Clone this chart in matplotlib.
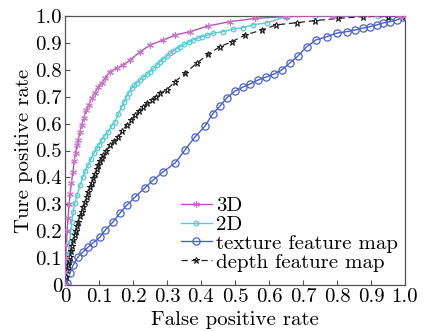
import matplotlib
matplotlib.use("Agg")
import matplotlib.pyplot as plt

plt.rcParams['font.family'] = ['cmr10', 'DejaVu Serif']
plt.rcParams['axes.formatter.use_mathtext'] = True
plt.rcParams['mathtext.fontset'] = 'cm'

# ---- data ----
x_3d = [0, 0.001, 0.002, 0.004, 0.006, 0.009, 0.012, 0.015, 0.019, 0.023, 0.027, 0.031,
        0.035, 0.039, 0.044, 0.049, 0.055, 0.062, 0.07, 0.078, 0.088, 0.098, 0.108, 0.118,
        0.132, 0.152, 0.171, 0.191, 0.221, 0.25, 0.289, 0.324, 0.368, 0.421, 0.485, 0.559,
        0.65, 0.789, 0.985, 1.0]
y_3d = [0, 0.05, 0.1, 0.15, 0.2, 0.25, 0.3, 0.34, 0.38, 0.42, 0.46, 0.49,
        0.52, 0.54, 0.57, 0.595, 0.62, 0.65, 0.67, 0.694, 0.715, 0.737, 0.752, 0.768,
        0.793, 0.806, 0.818, 0.836, 0.867, 0.892, 0.911, 0.929, 0.942, 0.963, 0.979, 0.991,
        0.998, 1.0, 1.0, 1.0]

x_2d = [0, 0.005, 0.008, 0.011, 0.014, 0.017, 0.02, 0.024, 0.029, 0.036, 0.044, 0.052,
        0.06, 0.068, 0.077, 0.085, 0.093, 0.1, 0.108, 0.117, 0.127, 0.137, 0.147, 0.157,
        0.167, 0.174, 0.181, 0.188, 0.196, 0.204, 0.212, 0.221, 0.23, 0.24, 0.25, 0.26,
        0.27, 0.279, 0.289, 0.299, 0.309, 0.319, 0.328, 0.338, 0.351, 0.364, 0.377, 0.39,
        0.403, 0.417, 0.436, 0.465, 0.494, 0.524, 0.553, 0.593, 0.652, 0.735, 0.92, 1.0]
y_2d = [0, 0.04, 0.08, 0.12, 0.16, 0.2, 0.235, 0.272, 0.305, 0.335, 0.37, 0.4,
        0.425, 0.445, 0.47, 0.49, 0.508, 0.522, 0.539, 0.555, 0.57, 0.59, 0.607, 0.635,
        0.663, 0.68, 0.7, 0.715, 0.731, 0.742, 0.752, 0.762, 0.772, 0.783, 0.793, 0.805,
        0.818, 0.83, 0.84, 0.85, 0.861, 0.87, 0.878, 0.886, 0.895, 0.903, 0.911, 0.917,
        0.923, 0.929, 0.936, 0.942, 0.951, 0.957, 0.967, 0.975, 0.998, 1.0, 1.0, 1.0]

x_tex = [0, 0.005, 0.015, 0.024, 0.038, 0.053, 0.068, 0.082, 0.103, 0.118, 0.141, 0.162,
         0.182, 0.206, 0.235, 0.259, 0.288, 0.324, 0.353, 0.382, 0.412, 0.434, 0.456,
         0.476, 0.5, 0.524, 0.544, 0.568, 0.591, 0.615, 0.637, 0.662, 0.685, 0.711, 0.738,
         0.77, 0.799, 0.829, 0.853, 0.876, 0.897, 0.917, 0.935, 0.956, 0.976, 0.994, 1.0]
y_tex = [0, 0.006, 0.045, 0.074, 0.104, 0.123, 0.141, 0.156, 0.178, 0.204, 0.234, 0.268,
         0.297, 0.327, 0.361, 0.39, 0.42, 0.454, 0.502, 0.55, 0.591, 0.636, 0.665,
         0.696, 0.721, 0.736, 0.747, 0.762, 0.773, 0.784, 0.799, 0.826, 0.851, 0.886, 0.911,
         0.923, 0.936, 0.942, 0.948, 0.955, 0.96, 0.967, 0.974, 0.979, 0.985, 0.996, 1.0]

x_dep = [0, 0.003, 0.005, 0.008, 0.011, 0.015, 0.018, 0.021, 0.024, 0.028, 0.032, 0.036,
         0.039, 0.044, 0.049, 0.054, 0.059, 0.064, 0.069, 0.074, 0.078, 0.083, 0.088, 0.093,
         0.098, 0.103, 0.108, 0.113, 0.12, 0.132, 0.145, 0.157, 0.169, 0.181, 0.194, 0.206,
         0.218, 0.23, 0.242, 0.255, 0.267, 0.279, 0.299, 0.324, 0.353, 0.387, 0.421, 0.456,
         0.49, 0.529, 0.579, 0.622, 0.681, 0.735, 0.804, 0.877, 0.951, 1.0]
y_dep = [0, 0.03, 0.056, 0.075, 0.09, 0.105, 0.125, 0.145, 0.167, 0.185, 0.2, 0.22,
         0.235, 0.255, 0.272, 0.291, 0.31, 0.328, 0.347, 0.365, 0.38, 0.397, 0.413, 0.43,
         0.446, 0.46, 0.472, 0.483, 0.497, 0.52, 0.535, 0.551, 0.573, 0.595, 0.614, 0.632,
         0.648, 0.663, 0.676, 0.688, 0.7, 0.713, 0.725, 0.756, 0.787, 0.824, 0.858, 0.886,
         0.904, 0.929, 0.948, 0.967, 0.975, 0.983, 0.991, 0.998, 0.998, 1.0]

labels = ["3D", "2D", "texture feature map", "depth feature map"]
tick_vals = [0, 0.1, 0.2, 0.3, 0.4, 0.5, 0.6, 0.7, 0.8, 0.9, 1.0]
tick_labels = ["0", "0.1", "0.2", "0.3", "0.4", "0.5", "0.6", "0.7", "0.8", "0.9", "1.0"]
xlabel = "False positive rate"
ylabel = "Ture positive rate"

# ---- figure ----
fig = plt.figure(figsize=(4.34, 3.31), dpi=100)
ax = fig.add_axes([65/434, 46/331, 340/434, 269/331])

ax.plot(x_3d, y_3d, color='#b455b4', lw=1.0, marker=(6, 2, 0), ms=4.8,
        mec='#c678c6', mew=0.8, label=labels[0], zorder=4)
ax.plot(x_2d, y_2d, color='#5ccad4', lw=1.0, marker='h', ms=3.6,
        mfc='none', mec='#5ccad4', mew=0.9, label=labels[1], zorder=3)
ax.plot(x_tex, y_tex, color='#4a62c2', lw=1.0, marker='o', ms=5.2,
        mfc='none', mec='#4a62c2', mew=0.9, label=labels[2], zorder=2)
ax.plot(x_dep, y_dep, color='#222222', lw=0.9, ls=(0, (5, 3)), marker='*', ms=5.0,
        mfc='none', mec='#222222', mew=0.8, label=labels[3], zorder=3)

ax.set_xlim(0, 1)
ax.set_ylim(0, 1)
ax.set_xticks(tick_vals)
ax.set_xticklabels(tick_labels)
ax.set_yticks(tick_vals)
ax.set_yticklabels(tick_labels)
ax.tick_params(direction='in', length=3.5, width=0.8, labelsize=15, pad=2,
               top=False, right=False, color='#555555')
for s in ax.spines.values():
    s.set_color('#555555')
    s.set_linewidth(0.9)

ax.set_xlabel(xlabel, fontsize=15, labelpad=4)
ax.set_ylabel(ylabel, fontsize=15, labelpad=2)

leg = ax.legend(loc='lower left', bbox_to_anchor=(0.34, 0.05), frameon=False,
                fontsize=15, handlelength=1.5, handletextpad=0.2,
                labelspacing=0.01, borderpad=0, borderaxespad=0)

fig.savefig("out.png", dpi=100)
